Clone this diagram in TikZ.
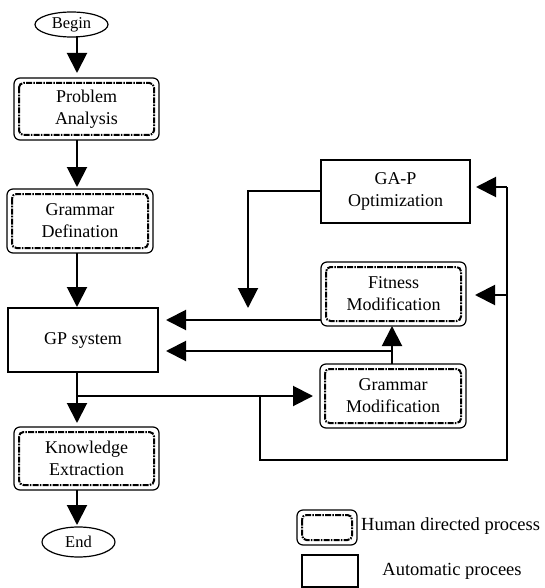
\documentclass[tikz,border=0pt]{standalone}
\usepackage{fontspec}
\setmainfont{Liberation Serif}
\usetikzlibrary{arrows.meta,shapes.geometric}

\tikzset{
  txt/.style={font=\fontsize{18}{22}\selectfont, align=center},
  auto/.style={txt, draw, line width=1.2pt, inner sep=0pt, outer sep=0pt},
  human/.style={auto, rounded corners=6pt},
  terminal/.style={draw, ellipse, line width=1.2pt, inner sep=0pt, outer sep=0pt,
    font=\fontsize{16.5}{20}\selectfont},
  innerborder/.style={line width=2pt, rounded corners=4.5pt,
    dash pattern=on 6pt off 1.2pt on 1.6pt off 1.2pt},
  flow/.style={line width=2pt, -{Triangle[length=20pt,width=20pt]}},
  link/.style={line width=2pt},
  legendtxt/.style={txt, font=\fontsize{18.5}{22}\selectfont, inner sep=0pt},
}

\begin{document}
\begin{tikzpicture}[x=1pt,y=-1pt]
\useasboundingbox (0,0) rectangle (544,588);

% terminals
\node[terminal, minimum width=73pt, minimum height=25pt] (begin) at (71.5,24.5) {Begin};
\node[terminal, minimum width=73pt, minimum height=30pt] (end) at (78.5,542) {End};

% main column
\node[human, minimum width=145pt, minimum height=62pt] (pa) at (86.5,109) {Problem\\Analysis};
\node[human, minimum width=146pt, minimum height=64pt] (gd) at (80,221) {Grammar\\Defination};
\node[auto,  minimum width=150pt, minimum height=64pt] (gp) at (83,340) {GP system};
\node[human, minimum width=145pt, minimum height=63pt] (ke) at (86.5,458.5) {Knowledge\\Extraction};

% right column
\node[auto,  minimum width=149pt, minimum height=63pt] (gap) at (395.5,191.5) {GA-P\\Optimization};
\node[human, minimum width=145pt, minimum height=64pt] (fm) at (393.5,294) {Fitness\\Modification};
\node[human, minimum width=146pt, minimum height=64pt] (gm) at (393,396) {Grammar\\Modification};

% legend
\node[human, minimum width=60pt, minimum height=35pt] (lh) at (327,527.5) {};
\node[auto,  minimum width=56pt, minimum height=32pt] (la) at (330,571) {};
\node[legendtxt, anchor=west] (lht) at (361,526) {Human directed process};
\node[legendtxt] (lat) at (452,571) {Automatic procees};

% inner dashed borders of the human directed steps
\foreach \n in {pa,gd,ke,fm,gm,lh}
  \draw[innerborder] ([shift={(5pt,-5pt)}]\n.north west) rectangle ([shift={(-5pt,5pt)}]\n.south east);

% main flow
\draw[flow, shorten >=5pt] (77,36) -- (77,78);
\draw[flow, shorten >=2pt] (77,140) -- (77,189);
\draw[flow, shorten >=1pt] (77,253) -- (77,308);
\draw[flow, shorten >=4pt] (77,372) -- (77,427);
\draw[flow, shorten >=2pt] (77,490) -- (77,527);

% branch to grammar modification and feedback loop
\coordinate (split) at (77,396);
\coordinate (loopa) at (260,396);
\coordinate (loopb) at (260,460);
\coordinate (loopc) at (507,460);
\coordinate (loopd) at (507,187);
\coordinate (loope) at (507,295);
\draw[flow, shorten >=7pt] (split) -- (gm.west |- split);
\draw[link] (loopa) -- (loopb) -- (loopc) -- (loopd);
\draw[flow, shorten >=6pt] (loopd) -- (gap.east |- loopd);
\draw[flow, shorten >=9pt] (loope) -- (fm.east |- loope);

% GA-P output
\coordinate (gpa) at (248,191);
\coordinate (gpb) at (248,308);
\draw[flow] (gap.west |- gpa) -- (gpa) -- (gpb);

% feedback into GP system
\draw[flow, shorten >=8pt] (fm.west |- 0,320) -- (gp.east |- 0,320);
\coordinate (gmsplit) at (392,351);
\draw[flow] (gm.north -| gmsplit) -- (fm.south -| gmsplit);
\draw[flow, shorten >=8pt] (gmsplit) -- (gp.east |- gmsplit);
\end{tikzpicture}
\end{document}
